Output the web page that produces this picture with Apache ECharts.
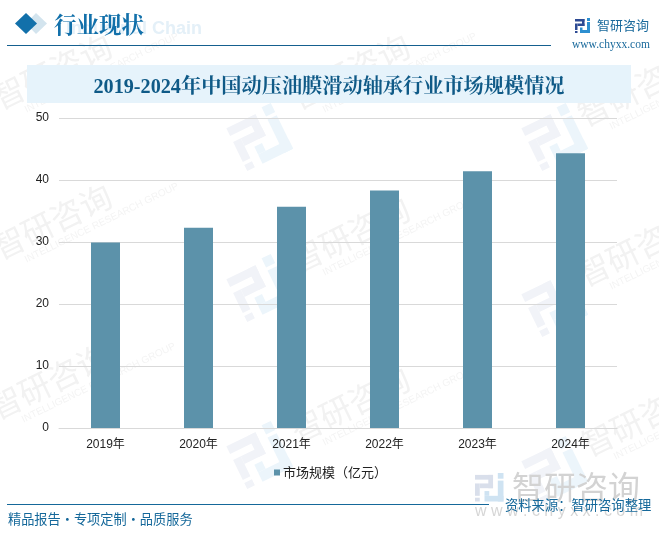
<!DOCTYPE html>
<html><head><meta charset="utf-8">
<style>html,body{margin:0;padding:0;background:#fff}#c{width:659px;height:537px}</style>
<script src="https://cdn.jsdelivr.net/npm/echarts@6/dist/echarts.min.js"></script></head>
<body><div id="c"></div>
<script>
const categories = ['2019年','2020年','2021年','2022年','2023年','2024年'];
const marketSize = [29.9, 32.3, 35.7, 38.3, 41.4, 44.3];
const seriesName = '市场规模（亿元）';
const chartTitle = '2019-2024年中国动压油膜滑动轴承行业市场规模情况';
const CJK = '"Noto Sans CJK SC","Liberation Sans",sans-serif';
const SERIF = '"Liberation Serif","Noto Serif CJK SC","Noto Sans CJK SC",serif';
const chart = echarts.init(document.getElementById('c'), null, {renderer:'canvas'});

const greyParts = [[0,2,19,5],[14,2,5,14],[5,11,14,5],[0,11,5,13],[0,26,5,4]];
const blueParts = [[24,0,6,6],[24,8,6,22],[10,24,20,6],[10,19,5,5]];
const ROT = Math.PI/180*26;
function logo(x, y, s, grey, blue, z){
  const mk = (a, c) => a.map(r => ({type:'rect', shape:{x:x+r[0]*s, y:y+r[1]*s, width:r[2]*s, height:r[3]*s}, style:{fill:c}, silent:true, z:z}));
  return [...mk(greyParts, grey), ...mk(blueParts, blue)];
}
function wmLogo(p){
  return {type:'group', x:p[0], y:p[1], rotation:ROT, silent:true, z:0, children:logo(-25.5, -25.5, 1.7, '#f1f3f8', '#ecf5fb', 0)};
}
function wmText(p){
  return {type:'group', x:p[0], y:p[1], rotation:ROT, silent:true, z:0, children:[
    {type:'text', x:-15, y:0, style:{text:'智研咨询', font:'32px '+CJK, fill:'#f2f2f2', textVerticalAlign:'middle'}},
    {type:'text', x:8, y:23, style:{text:'INTELLIGENCE RESEARCH GROUP', font:'10px "Liberation Sans"', fill:'#f4f4f4', textVerticalAlign:'middle'}}
  ]};
}
const marks = [
  ...[[259,137],[259,288],[259,455],[554,137],[554,303],[554,470]].map(wmLogo),
  ...[[8,93],[8,243],[5,403],[306,93],[306,256],[306,426],[593,110],[593,270],[597,440]].map(wmText)
];

const decor = [
  ...marks,
  {type:'rect', shape:{x:27,y:65,width:604,height:38}, style:{fill:'#e6f3fb'}, z:1, silent:true},
  {type:'text', x:329, y:88, style:{text:chartTitle, font:'bold 20.2px '+SERIF, fill:'#0f5a87', textAlign:'center', textVerticalAlign:'middle'}, z:2},
  {type:'text', x:66, y:29, style:{text:'Industrial Chain', font:'bold 18px "Liberation Sans"', fill:'#e4f0f8', textVerticalAlign:'middle'}, z:1},
  {type:'polygon', shape:{points:[[36,13],[47,23.5],[36,34],[26,23.5]]}, style:{fill:'#d3e4ee'}, z:1, silent:true},
  {type:'polygon', shape:{points:[[26,13],[37,23.5],[26,34],[15,23.5]]}, style:{fill:'#1270aa'}, z:2, silent:true},
  {type:'text', x:54, y:24, style:{text:'行业现状', font:'bold 22.5px "Noto Serif CJK SC","Noto Sans CJK SC"', fill:'#1270aa', textVerticalAlign:'middle'}, z:2},
  {type:'line', shape:{x1:7,y1:45.5,x2:551,y2:45.5}, style:{stroke:'#15608f', lineWidth:1}, z:2, silent:true},
  ...logo(575, 18, 0.5, '#2d4a93', '#2d8fd0', 2),
  {type:'text', x:597, y:25, style:{text:'智研咨询', font:'13px '+CJK, fill:'#1a6a9c', textVerticalAlign:'middle'}, z:2},
  {type:'text', x:572, y:45, style:{text:'www.chyxx.com', font:'11.5px "Liberation Serif"', fill:'#1a6a9c', textVerticalAlign:'middle'}, z:2},
  {type:'line', shape:{x1:7,y1:504.5,x2:489,y2:504.5}, style:{stroke:'#15689a', lineWidth:1}, z:2, silent:true},
  {type:'text', x:8, y:519, style:{text:'精品报告·专项定制·品质服务', font:'13.2px '+CJK, fill:'#15689a', textVerticalAlign:'middle'}, z:2},
  ...logo(475, 473, 0.95, '#d9dfeb', '#cfe3f2', 1),
  {type:'text', x:512, y:487, style:{text:'智研咨询', font:'32px '+CJK, fill:'#d3d3d3', textVerticalAlign:'middle'}, z:1},
  {type:'text', x:475, y:512, style:{text:'w w w . c h y x x . c o m', font:'16px "Liberation Sans"', fill:'#d6d6d6', textVerticalAlign:'middle'}, z:1},
  {type:'text', x:505, y:505, style:{text:'资料来源：智研咨询整理', font:'13.3px '+CJK, fill:'#15689a', textVerticalAlign:'middle'}, z:3}
];

chart.setOption({
  animation:false,
  backgroundColor:'#fff',
  graphic:decor,
  grid:{left:59,right:42,top:118,bottom:109,containLabel:false},
  legend:{
    data:[seriesName], top:461, left:269,
    itemWidth:6, itemHeight:6, itemGap:3, icon:'rect',
    textStyle:{fontSize:13, color:'#222', fontFamily:CJK, padding:[0,0,0,-2]}
  },
  xAxis:{
    type:'category', data:categories,
    axisLine:{lineStyle:{color:'#d9d9d9',width:1}},
    axisTick:{show:false},
    axisLabel:{color:'#222', fontSize:12, margin:11, fontFamily:'"Liberation Sans",'+CJK}
  },
  yAxis:{
    type:'value', min:0, max:50, interval:10,
    axisLine:{show:false}, axisTick:{show:false},
    axisLabel:{color:'#222', fontSize:12, margin:10, padding:[4,0,0,0], fontFamily:'"Liberation Sans"'},
    splitLine:{lineStyle:{color:'#d9d9d9',width:1}}
  },
  series:[{
    name:seriesName, type:'bar', data:marketSize, barWidth:29,
    itemStyle:{color:'#5c92aa'}, z:3
  }]
});
</script></body></html>
